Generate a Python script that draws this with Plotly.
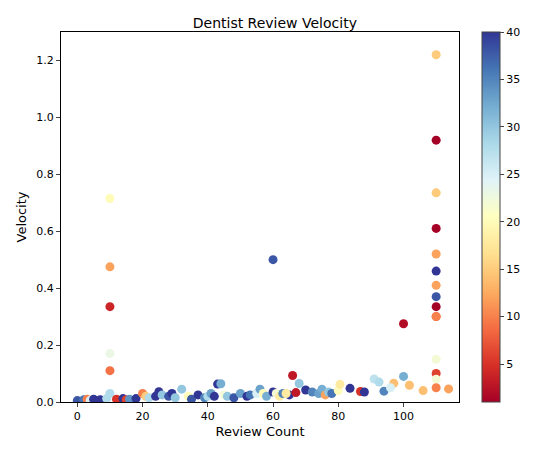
import plotly.graph_objects as go

review_count = [110,110,110,110,110,110,110,110,110,110,110,110,110,110,110,110,
                10,10,10,10,10,10, 60,100,
                0,2,3,4,5,7,9,12,14,15,16,18,20,21,22,24,25,26,28,29,30,32,34,35,37,39,40,41,42,43,44,45,46,48,50,52,53,55,56,57,58,60,61,62,63,65,66,67,68,70,72,74,75,76,77,78,80,80.5,83.6,86.8,88,91,92.5,94,97,100,101.8,106,113.8,96,64]
velocity = [1.22,0.92,0.735,0.735,0.61,0.52,0.46,0.41,0.37,0.335,0.30,0.30,0.15,0.10,0.08,0.05,
            0.715,0.475,0.335,0.17,0.11,0.03, 0.50,0.275,
            0.005,0.008,0.01,0.006,0.01,0.008,0.012,0.01,0.012,0.008,0.01,0.012,0.03,0.02,0.015,0.02,0.036,0.025,0.02,0.03,0.015,0.045,0.02,0.01,0.025,0.015,0.02,0.03,0.02,0.063,0.064,0.025,0.02,0.015,0.03,0.02,0.025,0.03,0.045,0.03,0.02,0.035,0.03,0.02,0.03,0.025,0.093,0.033,0.065,0.042,0.035,0.03,0.045,0.025,0.035,0.03,0.04,0.062,0.048,0.037,0.035,0.081,0.07,0.038,0.066,0.09,0.059,0.04,0.046,0.05,0.03]
color_val = [15,1,22,15,1,12,40,12,38,1,8,10,22,6,22,10,
             20,12,4,23,9,28, 38,2,
             38,36,10,25,40,40,28,5,40,6,34,40,10,15,28,40,40,30,38,40,30,30,20,38,40,35,28,33,40,40,32,22,30,38,33,40,36,25,33,20,32,40,22,18,35,40,3,3,30,40,35,33,32,12,30,36,20,18,40,5,40,27,28,35,14,32,14,14,12,25,18]

fig = go.Figure(go.Scatter(
    x=review_count, y=velocity, mode="markers",
    marker=dict(size=9, color=color_val, colorscale="RdYlBu", cmin=1, cmax=40,
                line=dict(width=0),
                colorbar=dict(thickness=18, len=1, lenmode="fraction", ypad=0, xpad=0,
                              y=0.5, yanchor="middle", x=1.058, xanchor="left",
                              tickvals=[5,10,15,20,25,30,35,40], outlinewidth=1,
                              ticks="outside", ticklen=4, tickfont=dict(size=11))),
))
axis = dict(showgrid=False, zeroline=False, showline=True, mirror=True, linecolor="black",
            ticks="outside", ticklen=4, tickfont=dict(size=11), automargin=False)
fig.update_layout(
    width=538, height=455, template="none",
    font=dict(family="DejaVu Sans", color="black", size=11),
    title=dict(text="Dentist Review Velocity", x=0.496, xanchor="center", y=0.978, font=dict(size=14)),
    margin=dict(l=53, r=87, t=24, b=61, autoexpand=False),
    xaxis=dict(axis, range=[-5, 117], tickvals=[0,20,40,60,80,100],
               title=dict(text="Review Count", standoff=4)),
    yaxis=dict(axis, range=[0, 1.3], tickvals=[0,0.2,0.4,0.6,0.8,1.0,1.2], tickformat=".1f",
               title=dict(text="Velocity", standoff=6)),
    plot_bgcolor="white", paper_bgcolor="white",
)
fig.write_html("out.html")
